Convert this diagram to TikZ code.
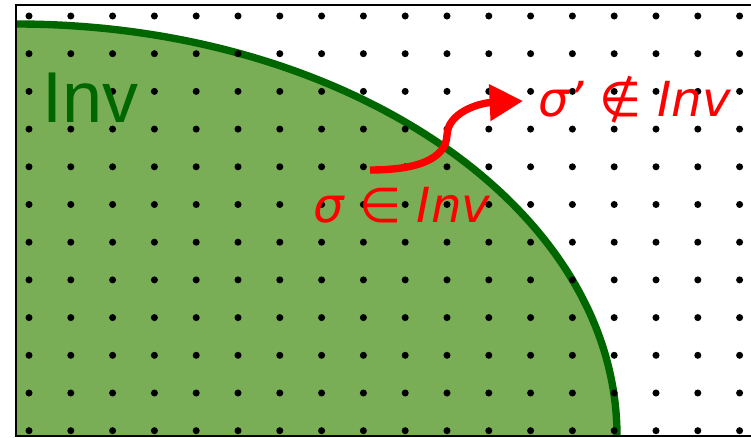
\documentclass[tikz,border=0pt]{standalone}
\usepackage{fontspec}
\setmainfont{Liberation Sans}
\newfontfamily\sigfont{DejaVu Sans}
\usetikzlibrary{arrows.meta}

\definecolor{invfill}{RGB}{122,174,86}
\definecolor{invline}{RGB}{0,102,0}
\definecolor{sigred}{RGB}{255,0,0}

\begin{document}
\begin{tikzpicture}[x=0.02cm,y=-0.02cm]
		\tikzstyle{every node}=[inner sep=0pt, anchor=base west]
		\tikzstyle{sigtext}=[text=sigred, font=\sigfont\itshape\fontsize{27.5pt}{32pt}\selectfont]
		\useasboundingbox (0,0) rectangle (751,438);
		
		% invariant region
		\fill[invfill] (16,436) -- (16,24) arc[start angle=270, end angle=360, x radius=601, y radius=412] -- cycle;
		\draw[invline, line width=4.2pt] (16,24) arc[start angle=270, end angle=360, x radius=601, y radius=412];
		
		% frame
		\draw[line width=0.9pt] (751,5) -- (16,5) -- (16,436) -- (751,436);
		
		% state grid
		\foreach \i in {0,...,17}
		\foreach \j in {0,...,11}
		\fill (29+41.8*\i,16+37.7*\j) circle[radius=2pt];
		
		\node[text=invline, font=\fontsize{41pt}{47pt}\selectfont] (invlabel) at (42,123) {Inv};
		\node[sigtext] (sigmain) at (313,223) {σ ∈ Inv};
		\node[sigtext] (sigmaout) at (538,117) {σ’ ∉ Inv};
		
		\coordinate (arrstart) at (370,170);
		\coordinate (arrend) at (523,101);
		\draw[sigred, line width=4.2pt, -{Triangle[length=19pt,width=20pt]}] (arrstart) .. controls (415,170) and (446,160) .. (447,135) .. controls (448,112) and (480,103) .. (arrend);
		
	\end{tikzpicture}
\end{document}
